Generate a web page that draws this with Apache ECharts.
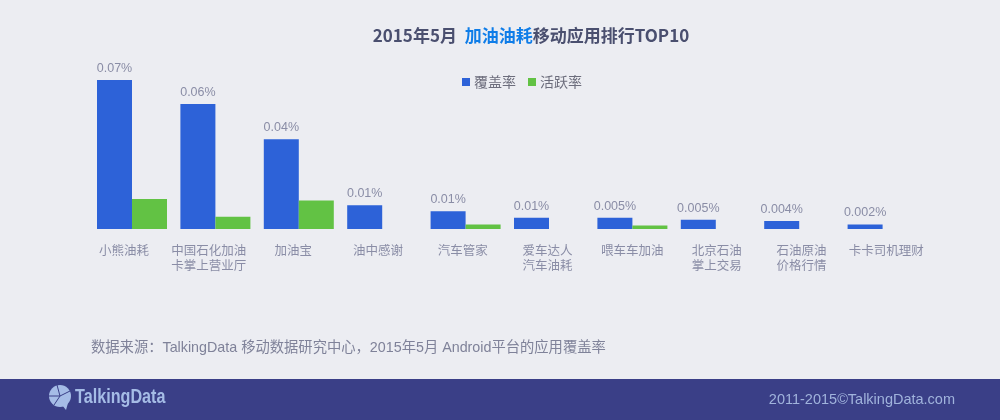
<!DOCTYPE html>
<html>
<head>
<meta charset="utf-8">
<style>
html, body { margin: 0; padding: 0; background: #ecedf2; }
#main { width: 1000px; height: 420px; }
</style>
<script src="https://cdn.jsdelivr.net/npm/echarts@6/dist/echarts.min.js"></script>
</head>
<body>
<div id="main"></div>
<script>
// 数据
const categories = ['小熊油耗', '中国石化加油\n卡掌上营业厅', '加油宝', '油中感谢', '汽车管家', '爱车达人\n汽车油耗', '喂车车加油', '北京石油\n掌上交易', '石油原油\n价格行情', '卡卡司机理财']
const coverage = [0.07, 0.0587, 0.0422, 0.0111, 0.0083, 0.0053, 0.0053, 0.0044, 0.0038, 0.0021]
const active = [0.0141, 0.0057, 0.0134, null, 0.0021, null, 0.0016, null, null, null]
const coverageLabels = ['0.07%', '0.06%', '0.04%', '0.01%', '0.01%', '0.01%', '0.005%', '0.005%', '0.004%', '0.002%']

const font = '"Noto Sans CJK SC", "Liberation Sans", sans-serif'
const latinFont = '"Liberation Sans", "Noto Sans CJK SC", sans-serif'
const blue = '#2d62d8'
const green = '#62c244'
const band = '#3a3f87'
const logoColor = '#a5bce6'

let element = document.querySelector('#main')
let myChart = echarts.init(element)

let option = {
    backgroundColor: '#ecedf2',
    animation: false,
    title: {
        text: '{a|2015年5月  }{b|加油油耗}{a|移动应用排行TOP10}',
        left: 526,
        top: 22,
        textAlign: 'center',
        textStyle: {
            rich: {
                a: {fontFamily: font, fontSize: 17, fontWeight: 'bold', color: '#4a4f6f'},
                b: {fontFamily: font, fontSize: 17, fontWeight: 'bold', color: '#0f7de8'}
            }
        }
    },
    legend: {
        data: ['覆盖率', '活跃率'],
        left: 457,
        top: 70,
        itemWidth: 8,
        itemHeight: 8,
        itemGap: 12,
        icon: 'rect',
        textStyle: {fontFamily: font, fontSize: 14, color: '#6c6d7c', padding: [0, 0, 0, -1]}
    },
    grid: [
        {left: 90.3, width: 834, top: 80, height: 149},
        // 横轴文字的间距比柱子略大，单独放一个 grid
        {left: 81.6, width: 847, top: 80, height: 149}
    ],
    xAxis: [
        {
            type: 'category',
            gridIndex: 0,
            data: categories,
            axisLine: {show: false},
            axisTick: {show: false},
            axisLabel: {show: false}
        },
        {
            type: 'category',
            gridIndex: 1,
            data: categories,
            axisLine: {show: false},
            axisTick: {show: false},
            axisLabel: {
                interval: 0,
                margin: 14,
                fontFamily: font,
                fontSize: 12.5,
                lineHeight: 15,
                color: '#8a8da6'
            }
        }
    ],
    yAxis: [
        {type: 'value', gridIndex: 0, min: 0, max: 0.07, show: false},
        {type: 'value', gridIndex: 1, min: 0, max: 0.07, show: false}
    ],
    series: [
        {
            name: '覆盖率',
            type: 'bar',
            xAxisIndex: 0,
            yAxisIndex: 0,
            data: coverage,
            barWidth: 35,
            barGap: 0,
            itemStyle: {color: blue},
            label: {
                show: true,
                position: 'top',
                distance: 5,
                fontFamily: '"Liberation Sans", sans-serif',
                fontSize: 12.5,
                color: '#8a8da6',
                formatter: (p) => coverageLabels[p.dataIndex]
            }
        },
        {
            name: '活跃率',
            type: 'bar',
            xAxisIndex: 0,
            yAxisIndex: 0,
            data: active,
            barWidth: 35,
            itemStyle: {color: green}
        }
    ],
    graphic: [
        {
            type: 'text',
            x: 91,
            y: 341,
            style: {
                text: '数据来源：TalkingData 移动数据研究中心，2015年5月 Android平台的应用覆盖率',
                font: '14.3px ' + latinFont,
                fill: '#7f8299'
            }
        },
        {
            type: 'rect',
            shape: {x: 0, y: 379, width: 1000, height: 41},
            style: {fill: band}
        },
        // logo
        {
            type: 'circle',
            shape: {cx: 60, cy: 396, r: 11},
            style: {fill: logoColor}
        },
        {
            type: 'polygon',
            shape: {points: [[62, 405], [68, 403], [66, 410]]},
            style: {fill: logoColor}
        },
        {
            type: 'line',
            shape: {x1: 49, y1: 396, x2: 60, y2: 396},
            style: {stroke: band, lineWidth: 1}
        },
        {
            type: 'line',
            shape: {x1: 60, y1: 396, x2: 57, y2: 385},
            style: {stroke: band, lineWidth: 1}
        },
        {
            type: 'line',
            shape: {x1: 60, y1: 396, x2: 70, y2: 391},
            style: {stroke: band, lineWidth: 1}
        },
        {
            type: 'line',
            shape: {x1: 60, y1: 396, x2: 54, y2: 405},
            style: {stroke: band, lineWidth: 1}
        },
        {
            type: 'text',
            x: 75,
            y: 387,
            scaleX: 0.77,
            style: {
                text: 'TalkingData',
                font: 'bold 21px "Liberation Sans", sans-serif',
                fill: logoColor
            }
        },
        {
            type: 'text',
            right: 45,
            top: 392,
            style: {
                text: '2011-2015©TalkingData.com',
                font: '14.5px "Liberation Sans", sans-serif',
                fill: '#a0b3dc'
            }
        }
    ]
}

myChart.setOption(option)
</script>
</body>
</html>
